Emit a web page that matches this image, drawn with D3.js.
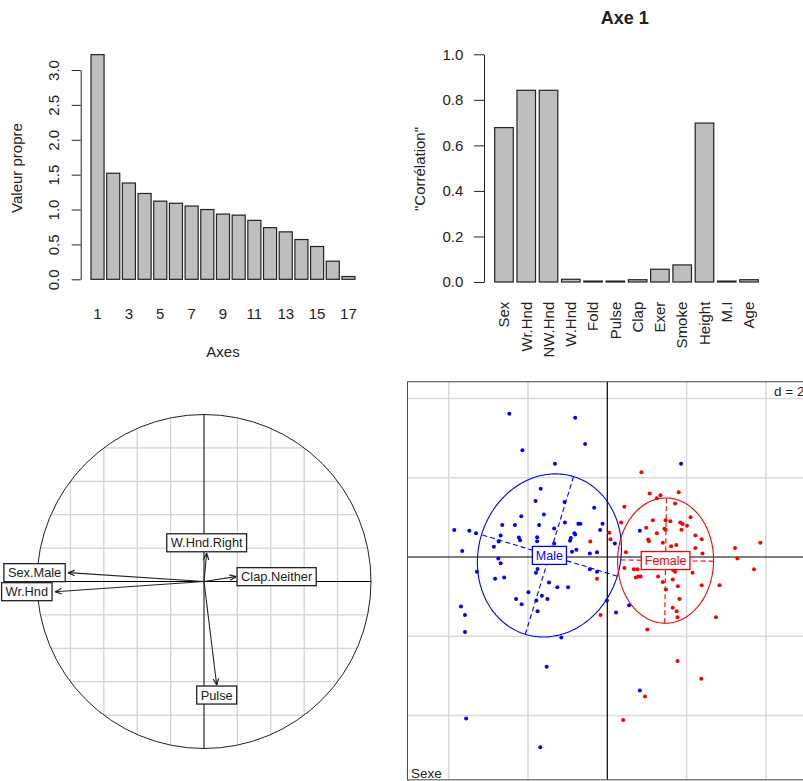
<!DOCTYPE html>
<html>
<head>
<meta charset="utf-8">
<script src="https://cdn.jsdelivr.net/npm/d3@7"></script>
<style>
body { margin: 0; background: #fff; }
svg { display: block; font-family: "Liberation Sans", Arial, sans-serif; }
</style>
</head>
<body>
<svg id="chart" width="803" height="781"></svg>
<script>
// eigenvalues (top left)
const eigenAxes = [1, 2, 3, 4, 5, 6, 7, 8, 9, 10, 11, 12, 13, 14, 15, 16, 17];
const eigenValues = [3.22, 1.52, 1.38, 1.23, 1.12, 1.09, 1.05, 1.00, 0.935, 0.92, 0.845, 0.74, 0.68, 0.57, 0.47, 0.26, 0.04];
const eigenTicks = [0, 0.5, 1, 1.5, 2, 2.5, 3];
const eigenAxisLabels = [1, 3, 5, 7, 9, 11, 13, 15, 17];

// correlations with axis 1 (top right)
const corrVars = ["Sex", "Wr.Hnd", "NW.Hnd", "W.Hnd", "Fold", "Pulse", "Clap", "Exer", "Smoke", "Height", "M.I", "Age"];
const corrValues = [0.678, 0.842, 0.842, 0.012, 0.004, 0.004, 0.010, 0.056, 0.075, 0.698, 0.004, 0.010];
const corrTicks = [0, 0.2, 0.4, 0.6, 0.8, 1.0];

// correlation circle (bottom left)
const circLabels = ["Sex.Male", "Wr.Hnd", "W.Hnd.Right", "Clap.Neither", "Pulse"];
const circX = [-0.813, -0.892, 0.016, 0.192, 0.076];
const circY = [0.053, -0.061, 0.169, 0.029, -0.620];
const circGrid = [-0.8, -0.6, -0.4, -0.2, 0.2, 0.4, 0.6, 0.8];

// individuals by sex (bottom right)
const malePoints = [
  [-2.47, 3.61], [-0.81, 3.51], [-2.14, 2.69], [-0.56, 2.85], [-1.32, 2.35], [1.86, 2.35],
  [-1.68, 1.72], [-1.81, 1.41], [-1.08, 1.39], [-0.33, 1.24], [-2.17, 1.03], [-1.60, 1.07],
  [-2.65, 0.81], [-2.33, 0.81], [-1.72, 0.81], [-1.34, 0.72], [-1.07, 0.87], [-0.73, 0.84],
  [-0.68, 0.84], [-0.12, 0.84], [-0.18, 0.68], [-3.86, 0.68], [-3.48, 0.66], [-3.31, 0.60],
  [-2.69, 0.54], [-2.23, 0.49], [-2.20, 0.42], [-1.77, 0.50], [-1.77, 0.40], [-1.34, 0.34],
  [-0.92, 0.48], [-0.94, 0.41], [-0.83, 0.60], [-0.81, 0.57], [-2.86, 0.26], [-2.74, 0.39],
  [-3.66, 0.15], [-0.89, 0.13], [-0.78, 0.18], [-0.44, 0.09], [-0.26, 0.12], [-2.75, -0.04],
  [-2.69, -0.16], [-3.29, -0.37], [-1.76, -0.30], [-1.80, -0.40], [-0.44, -0.31], [-0.26, -0.37],
  [-2.83, -0.55], [-2.60, -0.52], [-1.47, -0.64], [-1.26, -0.76], [-0.99, -0.76], [-1.99, -0.89],
  [-1.79, -1.10], [-1.65, -0.98], [-1.51, -1.06], [-2.30, -1.06], [-2.16, -1.19], [-1.76, -1.37],
  [-3.69, -1.25], [-3.59, -1.46], [-3.59, -1.89], [-0.01, -1.10], [0.22, -1.40], [0.55, -1.22],
  [0.82, 0.66], [0.19, 0.34], [-1.16, -2.03], [-1.53, -2.77], [-3.56, -4.07], [-1.69, -4.80],
  [0.82, -3.37]
];
const femalePoints = [
  [0.86, 2.14], [1.07, 1.60], [1.34, 1.56], [1.80, 1.63], [1.25, 1.48], [1.71, 1.35],
  [0.43, 1.27], [2.10, 1.00], [1.15, 0.93], [1.47, 0.93], [1.59, 0.90], [1.84, 0.87],
  [1.90, 0.83], [2.01, 0.79], [1.44, 0.71], [1.47, 0.69], [0.98, 0.74], [1.87, 0.69],
  [1.25, 0.60], [0.35, 0.87], [0.05, 0.61], [0.08, 0.45], [-0.43, 0.39], [1.03, 0.44],
  [1.05, 0.40], [1.40, 0.36], [1.61, 0.27], [1.74, 0.30], [2.22, 0.54], [2.38, 0.45],
  [2.22, 0.23], [2.40, 0.09], [3.22, 0.23], [3.86, 0.36], [3.28, -0.04], [3.70, -0.31],
  [0.47, 0.12], [0.43, -0.28], [0.67, -0.31], [0.76, -0.31], [0.72, -0.52], [0.78, -0.49],
  [0.84, -0.49], [1.28, -0.49], [1.66, -0.33], [1.71, -0.37], [2.15, -0.40], [1.40, -0.63],
  [1.65, -0.57], [1.78, -0.74], [2.38, -0.71], [2.83, -0.71], [1.48, -0.82], [1.82, -1.06],
  [1.65, -1.28], [1.75, -1.37], [1.77, -1.52], [2.74, -1.52], [1.01, -1.83], [-0.26, -0.55],
  [-0.17, -1.46], [1.77, -2.62], [2.37, -3.07], [0.95, -3.52], [0.40, -4.11]
];
const classNames = ["Male", "Female"];
const classColors = ["blue", "red"];
// ellipse: centre, semi axes, angle of first axis (degrees)
const classCx = [-1.46, 1.47];
const classCy = [0.04, -0.09];
const classA = [2.08, 1.58];
const classB = [1.79, 1.21];
const classAngle = [73, 89.2];
const scatGrid = [-4, -2, 2, 4];
const scatXlim = [-5.04, 5.04];
const scatYlim = [-5.62, 4.42];

const svg = d3.select("#chart");
const ink = "#222";
const axisFont = 15;

svg.append("rect").attr("width", 803).attr("height", 781).attr("fill", "#fff");

function styleAxis(g) {
    g.attr("font-size", axisFont).attr("font-family", null).attr("color", ink);
    g.selectAll("path, line").attr("stroke-width", 1);
}

// ---------- top left: eigenvalues ----------
const x1 = d3.scaleBand()
    .domain(eigenAxes)
    .range([91, 355])
    .paddingInner(0.2 / 1.2)
    .paddingOuter(0);
const y1 = d3.scaleLinear().domain([0, 3]).range([279.3, 70]);

svg.append("g").selectAll("rect")
    .data(eigenValues)
    .enter()
    .append("rect")
    .attr("x", (d, i) => x1(eigenAxes[i]))
    .attr("y", d => y1(d))
    .attr("width", x1.bandwidth())
    .attr("height", d => y1(0) - y1(d))
    .attr("fill", "#bebebe")
    .attr("stroke", ink)
    .attr("stroke-width", 1.2);

const gy1 = svg.append("g")
    .attr("transform", "translate(80.7,0)")
    .call(d3.axisLeft(y1).tickValues(eigenTicks).tickFormat(d3.format(".1f")).tickSize(9).tickSizeOuter(0))
    .call(styleAxis);
gy1.selectAll("text")
    .attr("transform", "rotate(-90)")
    .attr("x", 0).attr("y", -21.3).attr("dy", null)
    .attr("text-anchor", "middle");

const gx1 = svg.append("g")
    .attr("transform", "translate(0,300)")
    .call(d3.axisBottom(x1).tickValues(eigenAxisLabels).tickSize(0).tickPadding(8.4))
    .call(styleAxis);
gx1.select(".domain").remove();

svg.append("text")
    .attr("x", 223).attr("y", 357)
    .attr("text-anchor", "middle").attr("font-size", axisFont).attr("fill", ink)
    .text("Axes");
svg.append("text")
    .attr("transform", "translate(16.7,168) rotate(-90)")
    .attr("dy", "0.35em")
    .attr("text-anchor", "middle").attr("font-size", axisFont).attr("fill", ink)
    .text("Valeur propre");

// ---------- top right: correlations ----------
const x2 = d3.scaleBand()
    .domain(corrVars)
    .range([494.7, 758.3])
    .paddingInner(0.2 / 1.2)
    .paddingOuter(0);
const y2 = d3.scaleLinear().domain([0, 1]).range([282, 54.3]);

svg.append("g").selectAll("rect")
    .data(corrValues)
    .enter()
    .append("rect")
    .attr("x", (d, i) => x2(corrVars[i]))
    .attr("y", d => y2(d))
    .attr("width", x2.bandwidth())
    .attr("height", d => y2(0) - y2(d))
    .attr("fill", "#bebebe")
    .attr("stroke", ink)
    .attr("stroke-width", 1.2);

svg.append("g")
    .attr("transform", "translate(484,0)")
    .call(d3.axisLeft(y2).tickValues(corrTicks).tickFormat(d3.format(".1f")).tickSize(10).tickSizeOuter(0).tickPadding(10.7))
    .call(styleAxis);

const gx2 = svg.append("g")
    .attr("transform", "translate(0,282)")
    .call(d3.axisBottom(x2).tickSize(0))
    .call(styleAxis);
gx2.select(".domain").remove();
gx2.selectAll("text")
    .attr("transform", "rotate(-90)")
    .attr("x", -19.7).attr("y", 0).attr("dy", "0.35em")
    .attr("text-anchor", "end");

svg.append("text")
    .attr("transform", "translate(419.5,169) rotate(-90)")
    .attr("dy", "0.35em")
    .attr("text-anchor", "middle").attr("font-size", axisFont).attr("fill", ink)
    .text("\"Corrélation\"");
svg.append("text")
    .attr("x", 624.7).attr("y", 23.5)
    .attr("text-anchor", "middle").attr("font-size", 18).attr("font-weight", "bold").attr("fill", ink)
    .text("Axe 1");

// ---------- bottom left: correlation circle ----------
const xc = d3.scaleLinear().domain([-1, 1]).range([37, 371]);
const yc = d3.scaleLinear().domain([-1, 1]).range([748.5, 414.5]);
const circ = svg.append("g");

circ.selectAll("line.gv")
    .data(circGrid)
    .enter()
    .append("line")
    .attr("x1", d => xc(d)).attr("x2", d => xc(d))
    .attr("y1", d => yc(Math.sqrt(1 - d * d))).attr("y2", d => yc(-Math.sqrt(1 - d * d)))
    .attr("stroke", "#d3d3d3").attr("stroke-width", 1.3);
circ.selectAll("line.gh")
    .data(circGrid)
    .enter()
    .append("line")
    .attr("y1", d => yc(d)).attr("y2", d => yc(d))
    .attr("x1", d => xc(-Math.sqrt(1 - d * d))).attr("x2", d => xc(Math.sqrt(1 - d * d)))
    .attr("stroke", "#d3d3d3").attr("stroke-width", 1.3);

circ.append("ellipse")
    .attr("cx", xc(0)).attr("cy", yc(0))
    .attr("rx", xc(1) - xc(0)).attr("ry", yc(-1) - yc(0))
    .attr("fill", "none").attr("stroke", ink).attr("stroke-width", 1);
circ.append("line")
    .attr("x1", xc(-1)).attr("x2", xc(1)).attr("y1", yc(0)).attr("y2", yc(0))
    .attr("stroke", "#000");
circ.append("line")
    .attr("x1", xc(0)).attr("x2", xc(0)).attr("y1", yc(-1)).attr("y2", yc(1))
    .attr("stroke", "#000");

circLabels.forEach((lab, i) => {
    const tx = xc(circX[i]), ty = yc(circY[i]);
    const ox = xc(0), oy = yc(0);
    circ.append("line")
        .attr("x1", ox).attr("y1", oy).attr("x2", tx).attr("y2", ty)
        .attr("stroke", ink).attr("stroke-width", 1.1);
    // open arrow head
    const ang = Math.atan2(ty - oy, tx - ox);
    [-0.4, 0.4].forEach(da => {
        circ.append("line")
            .attr("x1", tx).attr("y1", ty)
            .attr("x2", tx - 7 * Math.cos(ang + da)).attr("y2", ty - 7 * Math.sin(ang + da))
            .attr("stroke", ink).attr("stroke-width", 1.2);
    });

    // label box placed like ade4's eti.circ
    const lg = circ.append("g");
    const t = lg.append("text")
        .attr("font-size", 12.8).attr("fill", ink)
        .attr("text-anchor", "middle").attr("dy", "0.35em")
        .text(lab);
    const w = t.node().getComputedTextLength() + 8, h = 18;
    const x = circX[i], y = circY[i];
    let cx = tx, cy = ty;
    if (x > y && x > -y) cx = tx + w / 2 + 1;
    else if (x > y && x <= -y) cy = ty + h / 2 + 1;
    else if (x <= y && x <= -y) cx = tx - w / 2 - 3;
    else cy = ty - h / 2 - 1.5;
    lg.attr("transform", `translate(${cx},${cy})`);
    lg.insert("rect", "text")
        .attr("x", -w / 2).attr("y", -h / 2).attr("width", w).attr("height", h)
        .attr("fill", "#fff").attr("stroke", ink).attr("stroke-width", 1.3);
});

// ---------- bottom right: classes ----------
const xs = d3.scaleLinear().domain([-5, 5]).range([409.05, 805.55]);
const ys = d3.scaleLinear().domain([-5, 5]).range([755.25, 358.75]);
const fx0 = xs(scatXlim[0]), fx1 = xs(scatXlim[1]);
const fy0 = ys(scatYlim[1]), fy1 = ys(scatYlim[0]);

svg.append("clipPath").attr("id", "frameClip")
    .append("rect").attr("x", fx0).attr("y", fy0).attr("width", fx1 - fx0).attr("height", fy1 - fy0);
const sc = svg.append("g").attr("clip-path", "url(#frameClip)");

sc.selectAll("line.sv")
    .data(scatGrid)
    .enter()
    .append("line")
    .attr("x1", d => xs(d)).attr("x2", d => xs(d)).attr("y1", fy0).attr("y2", fy1)
    .attr("stroke", "#d9d9d9").attr("stroke-width", 1.5);
sc.selectAll("line.sh")
    .data(scatGrid)
    .enter()
    .append("line")
    .attr("y1", d => ys(d)).attr("y2", d => ys(d)).attr("x1", fx0).attr("x2", fx1)
    .attr("stroke", "#d9d9d9").attr("stroke-width", 1.5);
sc.append("line")
    .attr("x1", fx0).attr("x2", fx1).attr("y1", ys(0)).attr("y2", ys(0))
    .attr("stroke", "#000").attr("stroke-width", 1.2);
sc.append("line")
    .attr("x1", xs(0)).attr("x2", xs(0)).attr("y1", fy0).attr("y2", fy1)
    .attr("stroke", "#000").attr("stroke-width", 1.2);

[malePoints, femalePoints].forEach((pts, k) => {
    sc.append("g").selectAll("circle")
        .data(pts)
        .enter()
        .append("circle")
        .attr("cx", d => xs(d[0]))
        .attr("cy", d => ys(d[1]))
        .attr("r", 2)
        .attr("fill", classColors[k]);
});

classNames.forEach((name, k) => {
    const th = classAngle[k] * Math.PI / 180;
    const ux = [Math.cos(th), Math.sin(th)];
    const vx = [-Math.sin(th), Math.cos(th)];
    const a = classA[k], b = classB[k];
    const cx = classCx[k], cy = classCy[k];
    const angles = d3.range(0, 2 * Math.PI + 0.01, Math.PI / 90);
    const line = d3.line()
        .x(t => xs(cx + a * Math.cos(t) * ux[0] + b * Math.sin(t) * vx[0]))
        .y(t => ys(cy + a * Math.cos(t) * ux[1] + b * Math.sin(t) * vx[1]));
    sc.append("path")
        .attr("d", line(angles))
        .attr("fill", "none").attr("stroke", classColors[k]).attr("stroke-width", 1.1);
    // dashed ellipse axes
    [[ux, a], [vx, b]].forEach(([u, r]) => {
        sc.append("line")
            .attr("x1", xs(cx - r * u[0])).attr("y1", ys(cy - r * u[1]))
            .attr("x2", xs(cx + r * u[0])).attr("y2", ys(cy + r * u[1]))
            .attr("stroke", classColors[k]).attr("stroke-width", 1.1)
            .attr("stroke-dasharray", "5,3");
    });
    const lg = sc.append("g").attr("transform", `translate(${xs(cx)},${ys(cy)})`);
    const t = lg.append("text")
        .attr("font-size", 12.5).attr("fill", classColors[k])
        .attr("text-anchor", "middle").attr("dy", "0.35em")
        .text(name);
    const w = t.node().getComputedTextLength() + 7, h = 18;
    lg.insert("rect", "text")
        .attr("x", -w / 2).attr("y", -h / 2).attr("width", w).attr("height", h)
        .attr("fill", "#fff").attr("stroke", classColors[k]).attr("stroke-width", 1.3);
});

// d = 2 and title boxes
sc.append("rect").attr("x", 771).attr("y", fy0).attr("width", 40).attr("height", 16).attr("fill", "#fff");
sc.append("text").attr("x", 774).attr("y", 396)
    .attr("font-size", 13.5).attr("fill", ink).text("d = 2");
sc.append("rect").attr("x", fx0).attr("y", 764).attr("width", 38).attr("height", fy1 - 764).attr("fill", "#fff");
sc.append("text").attr("x", 411).attr("y", 778)
    .attr("font-size", 13.5).attr("fill", ink).text("Sexe");

svg.append("rect")
    .attr("x", fx0).attr("y", fy0).attr("width", fx1 - fx0).attr("height", fy1 - fy0)
    .attr("fill", "none").attr("stroke", "#444").attr("stroke-width", 1);
</script>
</body>
</html>
